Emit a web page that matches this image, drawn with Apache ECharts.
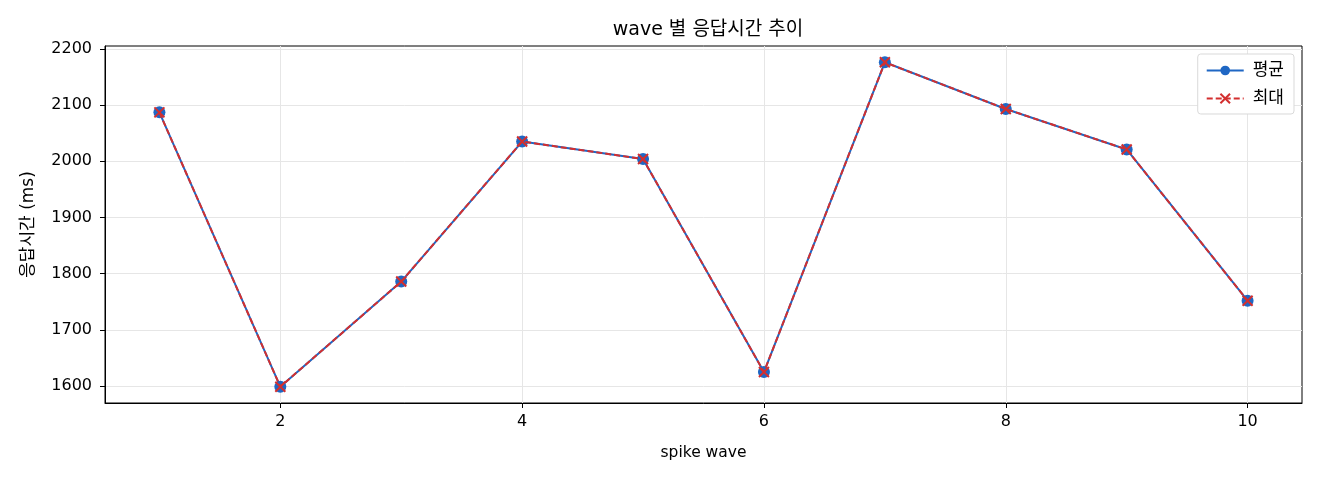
<!DOCTYPE html>
<html>
<head>
<meta charset="utf-8">
<script src="https://cdn.jsdelivr.net/npm/echarts@6/dist/echarts.min.js"></script>
<style>
html,body{margin:0;padding:0;background:#fff;}
#c{width:1320px;height:480px;}
</style>
</head>
<body>
<div id="c"></div>
<script>
const waves = [1,2,3,4,5,6,7,8,9,10];
const avgValues = [2087, 1599, 1786, 2035, 2004, 1625, 2176, 2093, 2021, 1752];
const maxValues = [2087, 1599, 1786, 2035, 2004, 1625, 2176, 2093, 2021, 1752];
const xTicks = [2,4,6,8,10];
const yTicks = [1600,1700,1800,1900,2000,2100,2200];

const FONT = '"DejaVu Sans", "Noto Sans CJK KR", sans-serif';
const chart = echarts.init(document.getElementById('c'));
chart.setOption({
  animation: false,
  textStyle: {fontFamily: FONT, color: '#000'},
  title: {
    text: 'wave 별 응답시간 추이',
    left: 703, top: 16, textAlign: 'center',
    textStyle: {fontFamily: FONT, fontSize: 19, fontWeight: 'normal', color: '#000'}
  },
  grid: {left: 105, right: 18, top: 46, bottom: 77, show: true, borderColor: '#000', borderWidth: 1, containLabel: false},
  legend: {
    right: 26, top: 54, orient: 'vertical',
    itemWidth: 37, itemHeight: 12, itemGap: 11,
    padding: [8, 10, 7, 8],
    borderColor: '#d9d9d9', borderWidth: 1, borderRadius: 3,
    backgroundColor: '#fff',
    textStyle: {fontFamily: FONT, fontSize: 17, color: '#000', padding: [0, 0, 0, 4]},
    data: ['평균', '최대']
  },
  xAxis: {
    type: 'value', min: 0.55, max: 10.45,
    name: 'spike wave', nameLocation: 'middle', nameGap: 42,
    nameTextStyle: {fontFamily: FONT, fontSize: 15.5, color: '#000'},
    axisLine: {show: true, lineStyle: {color: '#000'}},
    axisTick: {show: true, length: 5, customValues: xTicks, lineStyle: {color: '#000'}},
    axisLabel: {customValues: xTicks, fontSize: 16, color: '#000', margin: 11, fontFamily: FONT},
    splitLine: {show: true, lineStyle: {color: '#e6e6e6', width: 1}}
  },
  yAxis: {
    type: 'value', min: 1570, max: 2205,
    name: '응답시간 (ms)', nameLocation: 'middle', nameGap: 68,
    nameTextStyle: {fontFamily: FONT, fontSize: 17, color: '#000'},
    axisLine: {show: true, lineStyle: {color: '#000'}},
    axisTick: {show: true, length: 5, customValues: yTicks, lineStyle: {color: '#000'}},
    axisLabel: {customValues: yTicks, fontSize: 16, color: '#000', margin: 13, fontFamily: FONT,
      formatter: v => String(v)},
    splitLine: {show: true, lineStyle: {color: '#e6e6e6', width: 1}}
  },
  series: [
    {
      name: '평균', type: 'line',
      data: waves.map((w, i) => [w, avgValues[i]]),
      symbol: 'circle', symbolSize: 12,
      itemStyle: {color: '#1f67c4'},
      lineStyle: {color: '#1f67c4', width: 2},
      z: 2
    },
    {
      name: '최대', type: 'line',
      data: waves.map((w, i) => [w, maxValues[i]]),
      symbol: 'path://M0,0L10,10M10,0L0,10', symbolSize: 10,
      itemStyle: {color: '#d32f2f', borderColor: '#d32f2f', borderWidth: 2},
      lineStyle: {color: '#d32f2f', width: 2, type: [6, 3]},
      z: 3
    }
  ]
});
</script>
</body>
</html>
